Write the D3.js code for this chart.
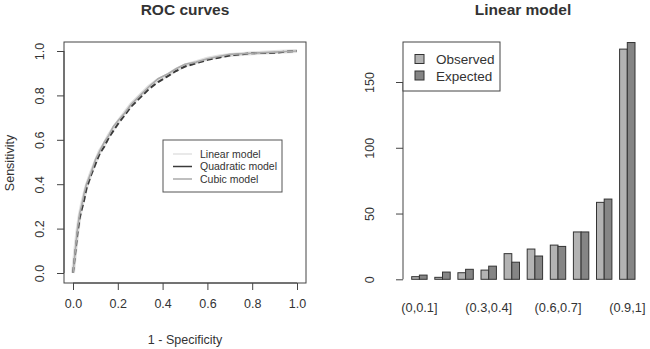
<!DOCTYPE html>
<html>
<head>
<meta charset="utf-8">
<script src="https://d3js.org/d3.v7.min.js"></script>
<style>
  body { margin: 0; background: #fff; }
  svg text { font-family: "Liberation Sans", Arial, sans-serif; fill: #333; }
</style>
</head>
<body>
<svg id="chart" width="650" height="349"></svg>
<script>
// ROC curves: shared false positive rate grid, sensitivity per model
const fpr       = [0, 0.01, 0.02, 0.03, 0.04, 0.05, 0.06, 0.08, 0.10, 0.12, 0.14, 0.16, 0.18, 0.20, 0.23, 0.26, 0.30, 0.34, 0.38, 0.42, 0.46, 0.50, 0.55, 0.60, 0.65, 0.70, 0.80, 0.90, 0.95, 1];
const linearSens    = [0, 0.10, 0.19, 0.26, 0.31, 0.35, 0.39, 0.45, 0.50, 0.55, 0.58, 0.62, 0.65, 0.68, 0.72, 0.76, 0.80, 0.84, 0.87, 0.89, 0.915, 0.935, 0.95, 0.965, 0.975, 0.982, 0.99, 0.995, 0.998, 1];
const quadraticSens = [0, 0.09, 0.18, 0.25, 0.29, 0.33, 0.38, 0.44, 0.49, 0.54, 0.57, 0.61, 0.64, 0.67, 0.71, 0.75, 0.79, 0.83, 0.86, 0.885, 0.91, 0.93, 0.945, 0.96, 0.97, 0.98, 0.99, 0.992, 0.997, 1];
const cubicSens     = [0, 0.10, 0.20, 0.27, 0.31, 0.36, 0.40, 0.45, 0.51, 0.55, 0.59, 0.62, 0.66, 0.685, 0.72, 0.76, 0.80, 0.84, 0.875, 0.895, 0.92, 0.94, 0.95, 0.965, 0.975, 0.985, 0.99, 0.995, 0.998, 1];
const rocTicks = [0, 0.2, 0.4, 0.6, 0.8, 1.0];

// Calibration bars for the linear model
const bins     = ["(0,0.1]", "(0.1,0.2]", "(0.2,0.3]", "(0.3,0.4]", "(0.4,0.5]", "(0.5,0.6]", "(0.6,0.7]", "(0.7,0.8]", "(0.8,0.9]", "(0.9,1]"];
const observed = [2, 1.5, 5, 7, 19.5, 23, 26, 36, 58.5, 175];
const expected = [3.2, 5.5, 7.6, 10, 13, 17.7, 25, 36, 61, 180];
const barTicks = [0, 50, 100, 150];
const binLabelShown = ["(0,0.1]", "(0.3,0.4]", "(0.6,0.7]", "(0.9,1]"];

const svg = d3.select("#chart");

// ---------- left panel: ROC curves ----------
const x = d3.scaleLinear().domain([0, 1]).range([73, 297]);
const y = d3.scaleLinear().domain([0, 1]).range([273, 51]);

svg.append("rect")
  .attr("x", 64).attr("y", 42).attr("width", 242).attr("height", 241)
  .attr("fill", "none").attr("stroke", "#444").attr("stroke-width", 1);

const xAxis = svg.append("g").attr("transform", "translate(0,283)")
  .call(d3.axisBottom(x).tickValues(rocTicks).tickFormat(d3.format(".1f")).tickSize(7).tickPadding(9));
xAxis.select(".domain").attr("d", "M" + x(0) + ",0H" + x(1)).attr("stroke", "#444");

const yAxis = svg.append("g").attr("transform", "translate(64,0)")
  .call(d3.axisLeft(y).tickValues(rocTicks).tickFormat(d3.format(".1f")).tickSize(7));
yAxis.select(".domain").attr("d", "M0," + y(0) + "V" + y(1)).attr("stroke", "#444");
// R style: tick labels parallel to the axis
yAxis.selectAll("text")
  .attr("transform", "rotate(-90)")
  .attr("x", 0).attr("y", -24)
  .attr("dy", "0.35em").attr("text-anchor", "middle");

[xAxis, yAxis].forEach(a => {
  a.selectAll(".tick line").attr("stroke", "#444");
  a.selectAll("text").attr("font-size", 12.5).attr("fill", "#333");
});

const line = d3.line().x((d, i) => x(fpr[i])).y(d => y(d));
svg.append("path").datum(linearSens).attr("d", line)
  .attr("fill", "none").attr("stroke", "#e2e2e2").attr("stroke-width", 4);
svg.append("path").datum(quadraticSens).attr("d", line)
  .attr("fill", "none").attr("stroke", "#3a3a3a").attr("stroke-width", 2).attr("stroke-dasharray", "6,3");
svg.append("path").datum(cubicSens).attr("d", line)
  .attr("fill", "none").attr("stroke", "#aaaaaa").attr("stroke-width", 1.6);

svg.append("text").attr("x", 185).attr("y", 15).attr("text-anchor", "middle")
  .attr("font-size", 15.5).attr("font-weight", "bold").attr("fill", "#111").text("ROC curves");
svg.append("text").attr("x", 185).attr("y", 344).attr("text-anchor", "middle")
  .attr("font-size", 12.5).text("1 - Specificity");
svg.append("text").attr("transform", "translate(14,163) rotate(-90)").attr("text-anchor", "middle")
  .attr("font-size", 12.5).text("Sensitivity");

// ROC legend
const rocLegend = [["Linear model", "#e2e2e2"], ["Quadratic model", "#3a3a3a"], ["Cubic model", "#aaaaaa"]];
svg.append("rect").attr("x", 163).attr("y", 140).attr("width", 119).attr("height", 52)
  .attr("fill", "#fff").attr("stroke", "#555");
rocLegend.forEach((d, i) => {
  const yy = 154 + i * 12.5;
  svg.append("line").attr("x1", 173).attr("x2", 192).attr("y1", yy).attr("y2", yy)
    .attr("stroke", d[1]).attr("stroke-width", 1.5);
  svg.append("text").attr("x", 200).attr("y", yy).attr("dy", "0.35em")
    .attr("font-size", 10.5).text(d[0]);
});

// ---------- right panel: bar chart ----------
// R barplot units: each bar 1 wide, 1 unit gap before each group
const unit = d3.scaleLinear().domain([1, 31]).range([411.7, 411.7 + 30 * 7.7]);
const yb = d3.scaleLinear().domain([0, 150]).range([279.3, 82]);

const barData = [];
bins.forEach((b, i) => {
  barData.push({ v: observed[i], u: 1 + i * 3, fill: "#b3b3b3" });
  barData.push({ v: expected[i], u: 2 + i * 3, fill: "#858585" });
});

svg.append("g").selectAll("rect").data(barData).join("rect")
  .attr("x", d => unit(d.u)).attr("width", unit(2) - unit(1))
  .attr("y", d => yb(d.v)).attr("height", d => yb(0) - yb(d.v))
  .attr("fill", d => d.fill).attr("stroke", "#333").attr("stroke-width", 1);

const ybAxis = svg.append("g").attr("transform", "translate(403,0)")
  .call(d3.axisLeft(yb).tickValues(barTicks).tickSize(7));
ybAxis.select(".domain").attr("d", "M0," + yb(0) + "V" + yb(150)).attr("stroke", "#444");
ybAxis.selectAll(".tick line").attr("stroke", "#444");
ybAxis.selectAll("text")
  .attr("transform", "rotate(-90)")
  .attr("x", 0).attr("y", -33)
  .attr("dy", "0.35em").attr("text-anchor", "middle")
  .attr("font-size", 12.5).attr("fill", "#333");

svg.append("g").selectAll("text").data(bins.map((b, i) => ({ b, i })).filter(d => binLabelShown.includes(d.b))).join("text")
  .attr("x", d => unit(2 + d.i * 3)).attr("y", 312)
  .attr("text-anchor", "middle").attr("font-size", 12.8).text(d => d.b);

svg.append("text").attr("x", 523).attr("y", 15).attr("text-anchor", "middle")
  .attr("font-size", 15.5).attr("font-weight", "bold").attr("fill", "#111").text("Linear model");

// bar legend
svg.append("rect").attr("x", 403).attr("y", 42).attr("width", 97).attr("height", 49)
  .attr("fill", "#fff").attr("stroke", "#444");
[["Observed", "#b3b3b3"], ["Expected", "#858585"]].forEach((d, i) => {
  const yy = 59.5 + i * 16.5;
  svg.append("rect").attr("x", 415).attr("y", yy - 5).attr("width", 9).attr("height", 9)
    .attr("fill", d[1]).attr("stroke", "#333");
  svg.append("text").attr("x", 436).attr("y", yy).attr("dy", "0.35em")
    .attr("font-size", 13.5).text(d[0]);
});
</script>
</body>
</html>
